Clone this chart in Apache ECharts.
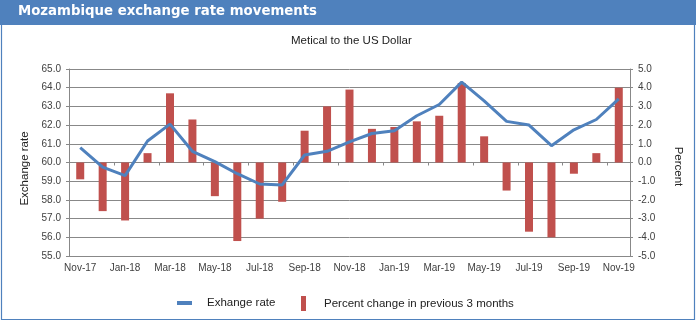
<!DOCTYPE html>
<html>
<head>
<meta charset="utf-8">
<script src="https://cdn.jsdelivr.net/npm/echarts@6/dist/echarts.min.js"></script>
<style>
html,body{margin:0;padding:0;background:#fff;}
#chart{width:696px;height:321px;}
</style>
</head>
<body>
<div id="chart"></div>
<script>
var categories = ['Nov-17','Dec-17','Jan-18','Feb-18','Mar-18','Apr-18','May-18','Jun-18','Jul-18','Aug-18','Sep-18','Oct-18','Nov-18','Dec-18','Jan-19','Feb-19','Mar-19','Apr-19','May-19','Jun-19','Jul-19','Aug-19','Sep-19','Oct-19','Nov-19'];
var exchangeRate = [60.8, 59.75, 59.3, 61.15, 62.05, 60.6, 60.05, 59.4, 58.85, 58.8, 60.4, 60.6, 61.1, 61.55, 61.7, 62.5, 63.1, 64.3, 63.3, 62.2, 62.0, 60.9, 61.75, 62.3, 63.4];
var percentChange = [-0.9, -2.6, -3.1, 0.5, 3.7, 2.3, -1.8, -4.2, -3.0, -2.1, 1.7, 3.0, 3.9, 1.8, 1.9, 2.2, 2.5, 4.25, 1.4, -1.5, -3.7, -4.0, -0.6, 0.5, 4.0];
var leftTicks = {min: 55, max: 65, interval: 1};
var rightTicks = {min: -5, max: 5, interval: 1};

var chart = echarts.init(document.getElementById('chart'));
var axisColor = '#888888';
var labelColor = '#404040';
var fam = '"Liberation Sans", Arial, sans-serif';
chart.setOption({
  animation: false,
  backgroundColor: '#ffffff',
  graphic: [
    {type:'rect', shape:{x:0,y:0,width:696,height:25}, style:{fill:'#4F81BD'}, z:-10},
    {type:'rect', shape:{x:1.5,y:24.5,width:693,height:295}, style:{fill:'none',stroke:'#4F81BD',lineWidth:1.2}, z:-10}
  ],
  title: [
    {text:'Mozambique exchange rate movements', left:18, top:5, padding:0,
     textStyle:{color:'#ffffff', fontWeight:'bold', fontSize:13.3, fontFamily:'"DejaVu Sans",Verdana,sans-serif'}},
    {text:'Metical to the US Dollar', left:291, top:35, padding:0,
     textStyle:{color:'#222222', fontWeight:'normal', fontSize:11.5, fontFamily:fam}}
  ],
  legend: [
    {data:['Exhange rate'], left:177, top:297, padding:0, icon:'rect', itemWidth:15, itemHeight:4,
     textStyle:{color:'#222', fontSize:11.5, fontFamily:fam, padding:[0,0,0,10]}},
    {data:['Percent change in previous 3 months'], left:301, top:296, padding:0, icon:'rect', itemWidth:5, itemHeight:15,
     textStyle:{color:'#222', fontSize:11.5, fontFamily:fam, padding:[0,0,0,13]}}
  ],
  grid: {left:69, right:66, top:69, bottom:65, containLabel:false},
  xAxis: {
    type:'category', data:categories, boundaryGap:true,
    axisLine:{show:true, lineStyle:{color:axisColor, width:1}},
    axisTick:{show:true, interval:1, length:3, lineStyle:{color:axisColor}},
    axisLabel:{interval:1, color:labelColor, fontSize:10, fontFamily:fam, margin:7}
  },
  yAxis: [
    {type:'value', min:leftTicks.min, max:leftTicks.max, interval:leftTicks.interval, position:'left',
     name:'Exchange rate', nameLocation:'middle', nameGap:37, nameRotate:90,
     nameTextStyle:{color:'#222', fontSize:11.5, fontFamily:fam, padding:[0,0,0,-12]},
     axisLine:{show:true, lineStyle:{color:axisColor}},
     axisTick:{show:true, length:3, lineStyle:{color:axisColor}},
     axisLabel:{color:labelColor, fontSize:10, fontFamily:fam, margin:8, formatter:function(v){return v.toFixed(1);}},
     splitLine:{show:true, lineStyle:{color:axisColor, width:1}}},
    {type:'value', min:rightTicks.min, max:rightTicks.max, interval:rightTicks.interval, position:'right',
     name:'Percent', nameLocation:'middle', nameGap:42, nameRotate:-90,
     nameTextStyle:{color:'#222', fontSize:11.5, fontFamily:fam, padding:[0,0,0,8]},
     axisLine:{show:true, lineStyle:{color:axisColor}},
     axisTick:{show:true, length:3, lineStyle:{color:axisColor}},
     axisLabel:{color:labelColor, fontSize:10, fontFamily:fam, margin:8, formatter:function(v){return v.toFixed(1);}},
     splitLine:{show:false}}
  ],
  series: [
    {name:'Percent change in previous 3 months', type:'bar', yAxisIndex:1, data:percentChange,
     barWidth:8, itemStyle:{color:'#C0504D'}, z:2},
    {name:'Exhange rate', type:'line', yAxisIndex:0, data:exchangeRate, showSymbol:false, symbol:'none',
     lineStyle:{color:'#4F81BD', width:3}, itemStyle:{color:'#4F81BD'}, z:3}
  ]
});
</script>
</body>
</html>
